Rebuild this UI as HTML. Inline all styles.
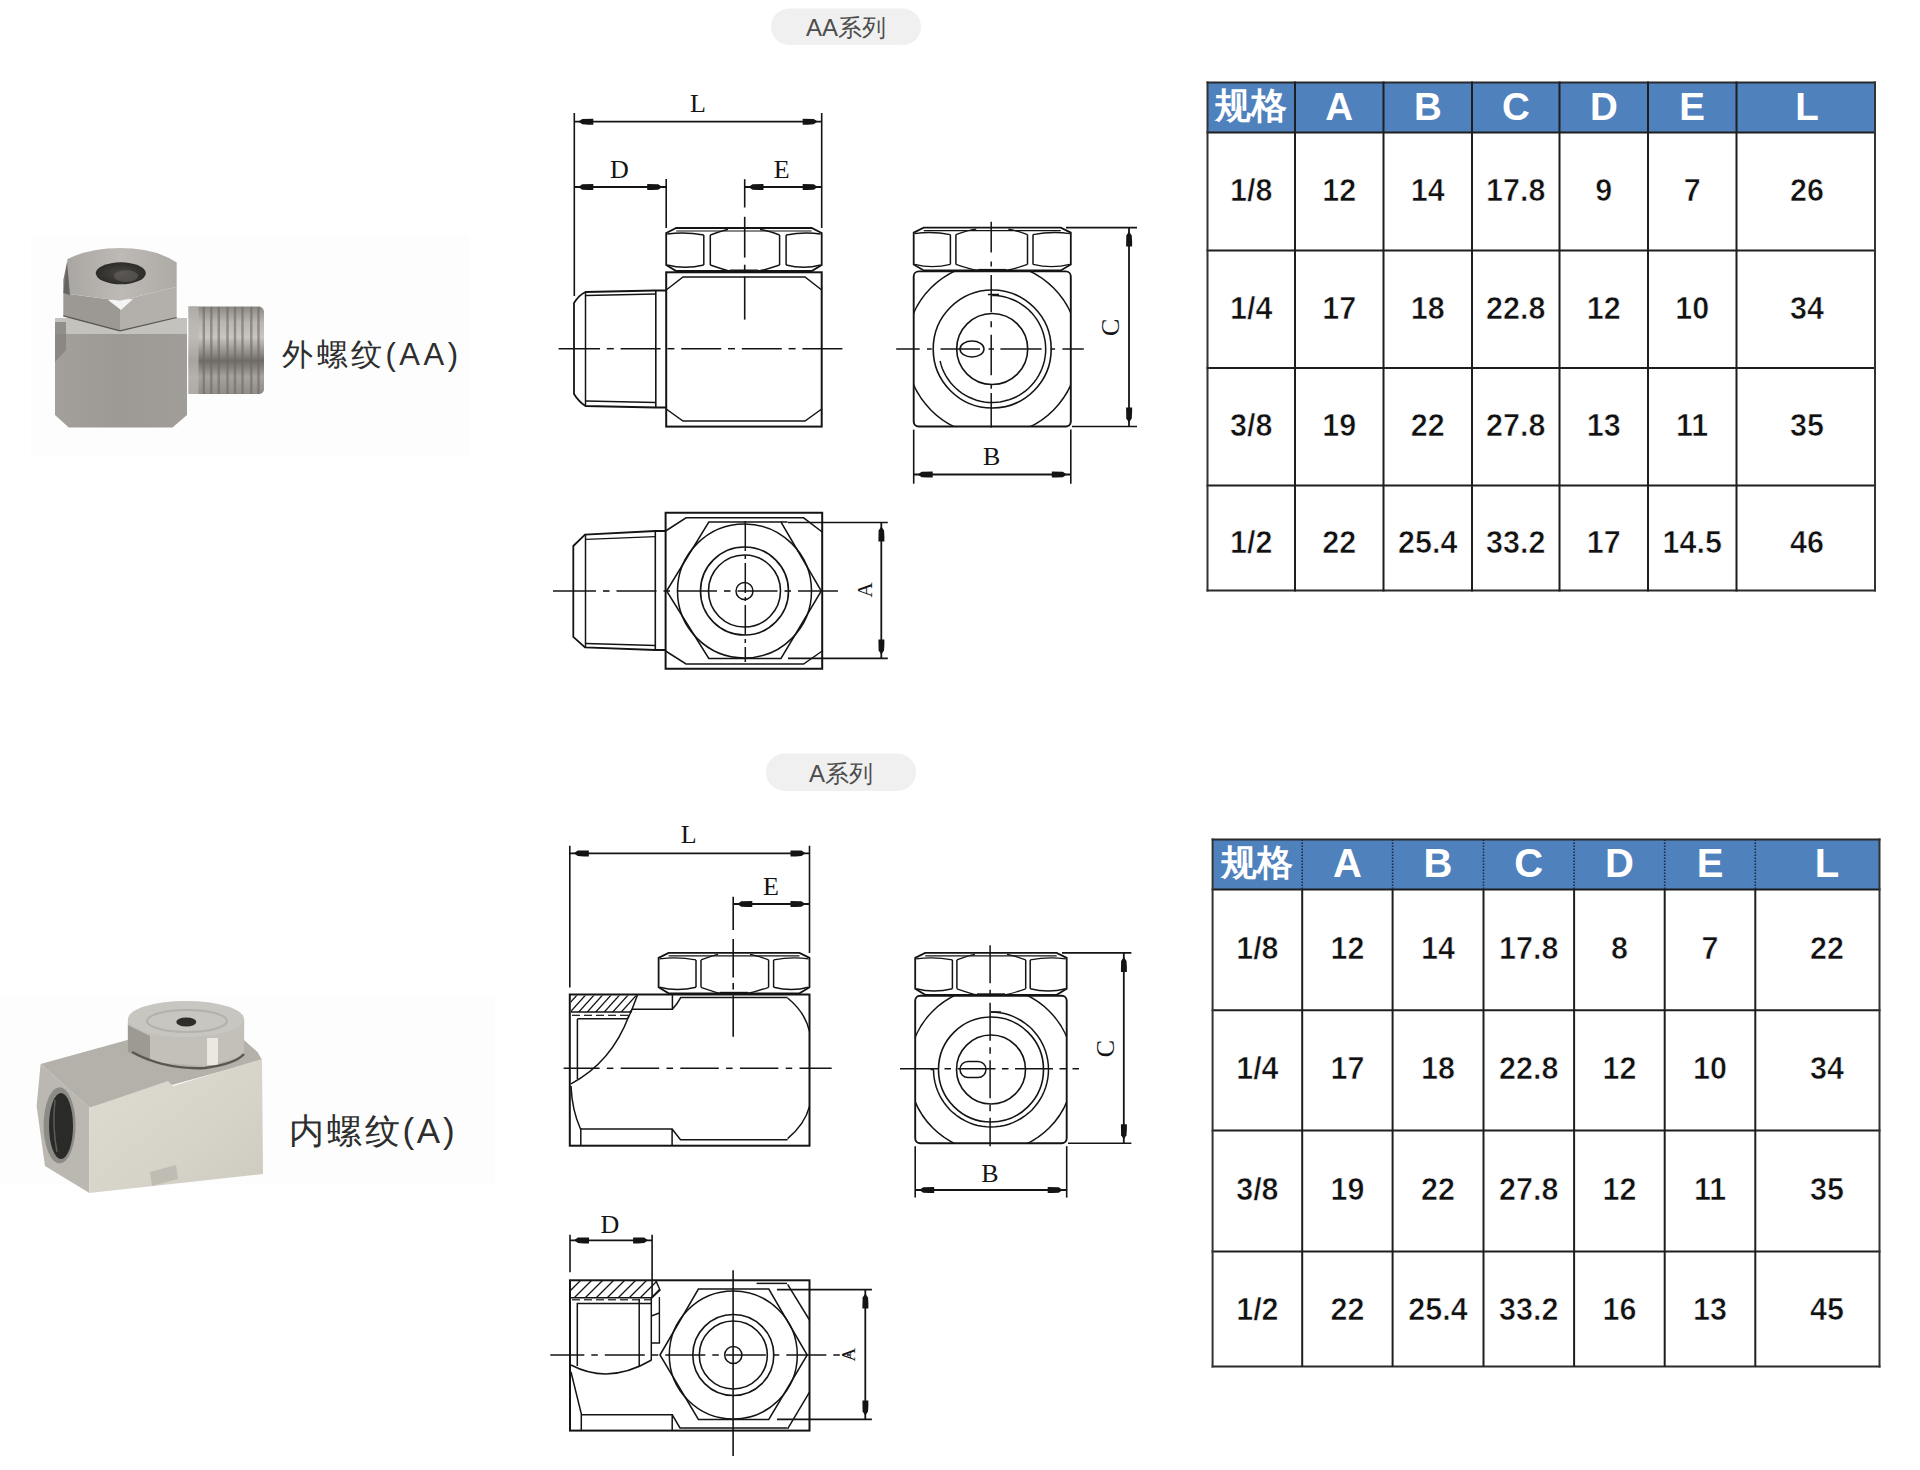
<!DOCTYPE html><html><head><meta charset="utf-8"><style>html,body{margin:0;padding:0;background:#fff;width:1920px;height:1470px;overflow:hidden}svg{display:block}</style></head><body>
<svg width="1920" height="1470" viewBox="0 0 1920 1470">
<rect x="0" y="0" width="1920" height="1470" fill="#ffffff"/>
<rect x="771" y="8.5" width="150" height="36.5" rx="18.25" fill="#f0f0f0"/>
<text x="846" y="36" font-family="Liberation Sans" font-size="24" fill="#4d4d4d" text-anchor="middle">AA系列</text>
<rect x="766" y="753.5" width="150" height="37.5" rx="18.75" fill="#f0f0f0"/>
<text x="841" y="781.5" font-family="Liberation Sans" font-size="24" fill="#4d4d4d" text-anchor="middle">A系列</text>
<rect x="31" y="234" width="438" height="222" fill="#fdfdfd"/>
<rect x="0" y="995" width="495" height="190" fill="#fdfdfd"/>
<defs>
<linearGradient id="p1thr" x1="0" y1="0" x2="0" y2="1">
<stop offset="0" stop-color="#8d8a86"/><stop offset="0.18" stop-color="#b9b6b1"/><stop offset="0.35" stop-color="#c9c6c1"/>
<stop offset="0.55" stop-color="#8a8783"/><stop offset="0.62" stop-color="#6f6c68"/><stop offset="0.8" stop-color="#a6a39e"/><stop offset="1" stop-color="#8f8c88"/>
</linearGradient>
<linearGradient id="p1body" x1="0" y1="0" x2="1" y2="0">
<stop offset="0" stop-color="#a3a09b"/><stop offset="0.5" stop-color="#9d9a95"/><stop offset="1" stop-color="#a19e99"/>
</linearGradient>
<linearGradient id="p1nut" x1="0" y1="0" x2="1" y2="0">
<stop offset="0" stop-color="#a8a5a0"/><stop offset="0.5" stop-color="#bdbab5"/><stop offset="1" stop-color="#aeaba6"/>
</linearGradient>
<linearGradient id="p2front" x1="0" y1="0" x2="1" y2="1">
<stop offset="0" stop-color="#dedbd0"/><stop offset="0.6" stop-color="#d6d3c8"/><stop offset="1" stop-color="#cdcac0"/>
</linearGradient>
<radialGradient id="p1hole" cx="0.5" cy="0.5" r="0.5">
<stop offset="0" stop-color="#4a4744"/><stop offset="1" stop-color="#2e2c2a"/>
</radialGradient>
</defs>
<g><path d="M188.5,306.5 L260,306.5 Q264,308 264,312 L264,389 Q264,393 260,394 L188.5,394 Z" fill="url(#p1thr)"/><line x1="203.8" y1="307" x2="203.8" y2="394" stroke="#6d6a66" stroke-width="2.4" opacity="0.6"/><line x1="211.3" y1="307" x2="211.3" y2="394" stroke="#6d6a66" stroke-width="2.4" opacity="0.6"/><line x1="218.8" y1="307" x2="218.8" y2="394" stroke="#6d6a66" stroke-width="2.4" opacity="0.6"/><line x1="227.5" y1="307" x2="227.5" y2="394" stroke="#6d6a66" stroke-width="2.4" opacity="0.6"/><line x1="235" y1="307" x2="235" y2="394" stroke="#6d6a66" stroke-width="2.4" opacity="0.6"/><line x1="242.5" y1="307" x2="242.5" y2="394" stroke="#6d6a66" stroke-width="2.4" opacity="0.6"/><line x1="251.3" y1="307" x2="251.3" y2="394" stroke="#6d6a66" stroke-width="2.4" opacity="0.6"/><line x1="258.5" y1="307" x2="258.5" y2="394" stroke="#6d6a66" stroke-width="2.4" opacity="0.6"/><rect x="188.5" y="306.5" width="10" height="87.5" fill="#b9b6b1" opacity="0.75"/><polygon points="55,320 187,320 187,415 172.5,427.5 68.75,427.5 55,415" fill="url(#p1body)"/><polygon points="55,318 187,318 187,334 55,334" fill="#c4c2bd"/><polygon points="55,322 66,322 66,350 55,362" fill="#85827d" opacity="0.8"/><polygon points="63.3,293.3 120,300.8 120,330.8 63.3,315.8" fill="#9c9994"/><polygon points="120,300.8 176.7,286.7 176.7,317.5 120,330.8" fill="#b3b0ab"/><polygon points="108,300 133,299 121,310" fill="#f4f4f4"/><path d="M63.3,315.8 L120,330.8 L176.7,317.5" fill="none" stroke="#55524e" stroke-width="1.2"/><path d="M67.5,259 Q90,248 120,248 Q155,248 176.7,262.5 L176.7,286.7 L120,300.8 L63.3,293.3 Z" fill="url(#p1nut)"/><polygon points="63.3,280 67,262 70,295 63.3,293.3" fill="#4a4845" opacity="0.7"/><ellipse cx="120.8" cy="273.3" rx="25" ry="11" fill="url(#p1hole)"/><ellipse cx="126" cy="276" rx="12" ry="6" fill="#6b6864" opacity="0.5"/></g>
<text x="282" y="364.6" font-family="Liberation Sans" font-size="31" fill="#2e2e2e" letter-spacing="3.5">外螺纹(AA)</text>
<g><polygon points="36.6,1106 40.6,1064 89.4,1107.7 89.4,1193 45,1166" fill="#bab8b1"/><polygon points="40.6,1064 127.4,1040 244,1040 257.5,1052 262,1060 89.4,1107.7" fill="#b3b1aa"/><polygon points="89.4,1107.7 168,1081 173,1086 262,1059 263,1174 89.4,1193" fill="url(#p2front)"/><ellipse cx="59.6" cy="1125.3" rx="16" ry="38" fill="#8d8b85"/><ellipse cx="61" cy="1126" rx="12" ry="33" fill="#2a2a28"/><path d="M55,1100 Q52,1126 57,1152" fill="none" stroke="#5e5c57" stroke-width="1.5"/><polygon points="150,1172 176,1165 178,1179 152,1186" fill="#bfbcb4"/><polygon points="127.9,1019 127.9,1052 150,1062 207,1066 244,1056 244.2,1019" fill="#c2c0b9"/><polygon points="127.9,1025 150,1036 150,1062 127.9,1052" fill="#9d9a92"/><rect x="207" y="1038" width="11" height="27" fill="#ebe9df"/><path d="M132,1052 Q165,1070 205,1068 Q235,1064 244,1054" fill="none" stroke="#5a574d" stroke-width="2.5"/><ellipse cx="186" cy="1019" rx="58" ry="18" fill="#c8c6c0"/><ellipse cx="187" cy="1021" rx="40" ry="11" fill="none" stroke="#b3b1aa" stroke-width="2"/><ellipse cx="186.3" cy="1022" rx="10" ry="4.5" fill="#2f2d2a"/></g>
<text x="289" y="1142.7" font-family="Liberation Sans" font-size="35" fill="#2e2e2e" letter-spacing="2.8">内螺纹(A)</text>
<g><line x1="574.3" y1="121.6" x2="821.7" y2="121.6" stroke="#141414" stroke-width="1.8"/><polygon points="578.3,121.6 582.3,118.9 593.3,118.7 593.3,124.7 588.3,124.7 582.3,124.3" fill="#141414"/><polygon points="817.7,121.6 813.7,118.9 802.7,118.7 802.7,124.7 807.7,124.7 813.7,124.3" fill="#141414"/><line x1="574.3" y1="113.0" x2="574.3" y2="296.0" stroke="#141414" stroke-width="1.6"/><line x1="821.7" y1="113.0" x2="821.7" y2="228.0" stroke="#141414" stroke-width="1.6"/><text x="698" y="112.4" font-family="Liberation Serif" font-size="26" fill="#141414" text-anchor="middle">L</text><line x1="574.3" y1="187.0" x2="666.2" y2="187.0" stroke="#141414" stroke-width="1.8"/><polygon points="578.3,187.0 582.3,184.3 593.3,184.1 593.3,190.1 588.3,190.1 582.3,189.7" fill="#141414"/><polygon points="662.2,187.0 658.2,184.3 647.2,184.1 647.2,190.1 652.2,190.1 658.2,189.7" fill="#141414"/><line x1="666.2" y1="179.0" x2="666.2" y2="228.0" stroke="#141414" stroke-width="1.6"/><text x="619.5" y="177.5" font-family="Liberation Serif" font-size="26" fill="#141414" text-anchor="middle">D</text><line x1="744.5" y1="187.0" x2="821.7" y2="187.0" stroke="#141414" stroke-width="1.8"/><polygon points="748.5,187.0 752.5,184.3 763.5,184.1 763.5,190.1 758.5,190.1 752.5,189.7" fill="#141414"/><polygon points="817.7,187.0 813.7,184.3 802.7,184.1 802.7,190.1 807.7,190.1 813.7,189.7" fill="#141414"/><line x1="744.7" y1="179.2" x2="744.7" y2="207.5" stroke="#141414" stroke-width="1.6"/><line x1="744.7" y1="216.8" x2="744.7" y2="257.6" stroke="#141414" stroke-width="1.6"/><line x1="744.7" y1="264.7" x2="744.7" y2="270.1" stroke="#141414" stroke-width="1.6"/><line x1="744.7" y1="276.6" x2="744.7" y2="319.6" stroke="#141414" stroke-width="1.6"/><text x="781.7" y="177.5" font-family="Liberation Serif" font-size="26" fill="#141414" text-anchor="middle">E</text><path d="M666.2,233 L676.2,228 L811.7,228 L821.7,233 L821.7,265 L811.7,271 L676.2,271 L666.2,265 Z" fill="none" stroke="#141414" stroke-width="1.8"/><line x1="676.2" y1="231.0" x2="811.7" y2="231.0" stroke="#141414" stroke-width="1.1"/><path d="M667.2,234 Q685.0,231.5 703.8,235" fill="none" stroke="#141414" stroke-width="1.4"/><path d="M710.3,235 Q724.3,230 727.95,229.5" fill="none" stroke="#141414" stroke-width="1.4"/><path d="M759.95,229.5 Q765.6,230 779.6,235" fill="none" stroke="#141414" stroke-width="1.4"/><path d="M786.1,235 Q803.9000000000001,231.5 820.7,234" fill="none" stroke="#141414" stroke-width="1.4"/><path d="M667.2,265 Q685.0,269.5 703.8,265" fill="none" stroke="#141414" stroke-width="1.4"/><path d="M710.3,265 Q726.3,270.5 729.95,271" fill="none" stroke="#141414" stroke-width="1.4"/><path d="M757.95,271 Q763.6,270.5 779.6,265" fill="none" stroke="#141414" stroke-width="1.4"/><path d="M786.1,265 Q803.9000000000001,269.5 820.7,265" fill="none" stroke="#141414" stroke-width="1.4"/><line x1="730.0" y1="270.7" x2="758.0" y2="270.7" stroke="#141414" stroke-width="2.4"/><line x1="703.8" y1="235.0" x2="703.8" y2="265.0" stroke="#141414" stroke-width="1.5"/><line x1="710.3" y1="235.0" x2="710.3" y2="265.0" stroke="#141414" stroke-width="1.5"/><line x1="779.6" y1="235.0" x2="779.6" y2="265.0" stroke="#141414" stroke-width="1.5"/><line x1="786.1" y1="235.0" x2="786.1" y2="265.0" stroke="#141414" stroke-width="1.5"/><rect x="666.2" y="272.3" width="155.5" height="154.3" fill="none" stroke="#141414" stroke-width="2"/><path d="M666.2,290 L683,277 L805,277 L821.7,290" fill="none" stroke="#141414" stroke-width="1.5"/><path d="M666.2,409 L683,421 L805,421 L821.7,409" fill="none" stroke="#141414" stroke-width="1.5"/><path d="M666.2,290.5 L655.5,290.5 L585.5,292 Q579,295 574,303 L574,394 Q579,402 585.5,406 L655.5,407.5 L666.2,407.5" fill="none" stroke="#141414" stroke-width="1.8"/><path d="M586,295.5 L655.5,294" fill="none" stroke="#141414" stroke-width="1.4"/><path d="M586,401 L655.5,402.5" fill="none" stroke="#141414" stroke-width="1.4"/><line x1="585.5" y1="292.0" x2="585.5" y2="406.0" stroke="#141414" stroke-width="1.5"/><line x1="655.8" y1="290.5" x2="655.8" y2="407.5" stroke="#141414" stroke-width="1.6"/><line x1="558.6" y1="348.7" x2="600.0" y2="348.7" stroke="#141414" stroke-width="1.5"/><line x1="606.8" y1="348.7" x2="613.8" y2="348.7" stroke="#141414" stroke-width="1.5"/><line x1="620.6" y1="348.7" x2="660.6" y2="348.7" stroke="#141414" stroke-width="1.5"/><line x1="667.4" y1="348.7" x2="674.4" y2="348.7" stroke="#141414" stroke-width="1.5"/><line x1="681.2" y1="348.7" x2="721.2" y2="348.7" stroke="#141414" stroke-width="1.5"/><line x1="728.0" y1="348.7" x2="735.0" y2="348.7" stroke="#141414" stroke-width="1.5"/><line x1="741.8" y1="348.7" x2="781.8" y2="348.7" stroke="#141414" stroke-width="1.5"/><line x1="788.6" y1="348.7" x2="795.6" y2="348.7" stroke="#141414" stroke-width="1.5"/><line x1="802.4" y1="348.7" x2="842.4" y2="348.7" stroke="#141414" stroke-width="1.5"/><path d="M913.7,232.6 L923.7,227.6 L1060.8,227.6 L1070.8,232.6 L1070.8,264.4 L1060.8,270.4 L923.7,270.4 L913.7,264.4 Z" fill="none" stroke="#141414" stroke-width="1.8"/><line x1="923.7" y1="230.6" x2="1060.8" y2="230.6" stroke="#141414" stroke-width="1.1"/><path d="M914.7,233.6 Q932.05,231.1 950.4,234.6" fill="none" stroke="#141414" stroke-width="1.4"/><path d="M955.9,234.6 Q969.9,229.6 976.25,229.1" fill="none" stroke="#141414" stroke-width="1.4"/><path d="M1008.25,229.1 Q1013.5,229.6 1027.5,234.6" fill="none" stroke="#141414" stroke-width="1.4"/><path d="M1033.0,234.6 Q1051.9,231.1 1069.8,233.6" fill="none" stroke="#141414" stroke-width="1.4"/><path d="M914.7,264.4 Q932.05,268.9 950.4,264.4" fill="none" stroke="#141414" stroke-width="1.4"/><path d="M955.9,264.4 Q971.9,269.9 978.25,270.4" fill="none" stroke="#141414" stroke-width="1.4"/><path d="M1006.25,270.4 Q1011.5,269.9 1027.5,264.4" fill="none" stroke="#141414" stroke-width="1.4"/><path d="M1033.0,264.4 Q1051.9,268.9 1069.8,264.4" fill="none" stroke="#141414" stroke-width="1.4"/><line x1="978.2" y1="270.1" x2="1006.2" y2="270.1" stroke="#141414" stroke-width="2.4"/><line x1="950.4" y1="234.6" x2="950.4" y2="264.4" stroke="#141414" stroke-width="1.5"/><line x1="955.9" y1="234.6" x2="955.9" y2="264.4" stroke="#141414" stroke-width="1.5"/><line x1="1027.5" y1="234.6" x2="1027.5" y2="264.4" stroke="#141414" stroke-width="1.5"/><line x1="1033.0" y1="234.6" x2="1033.0" y2="264.4" stroke="#141414" stroke-width="1.5"/><rect x="913.7" y="271.4" width="157.1" height="155.1" rx="5" fill="none" stroke="#141414" stroke-width="1.9"/><clipPath id="c2"><rect x="913.7" y="271.4" width="157.1" height="155.1"/></clipPath><circle cx="992.2" cy="349" r="86.5" fill="none" stroke="#141414" stroke-width="1.5" clip-path="url(#c2)"/><circle cx="992.2" cy="349" r="59" fill="none" stroke="#141414" stroke-width="1.6"/><path d="M992.2,295.5 L996.2,295.6 L1000.2,296.1 L1004.1,296.8 L1008.0,297.9 L1011.7,299.2 L1015.4,300.8 L1018.9,302.7 L1022.3,304.8 L1025.5,307.2 L1028.6,309.8 L1031.4,312.6 L1034.0,315.6 L1036.4,318.8 L1038.5,322.2 L1040.4,325.8 L1042.0,329.4 L1043.3,333.2 L1044.3,337.1 L1045.1,341.0 L1045.5,345.0 L1045.7,349.0 L1045.6,352.9 L1045.1,356.9 L1044.4,360.9 L1043.3,364.7 L1042.0,368.5 L1040.4,372.2 L1038.6,375.7 L1036.4,379.1 L1034.1,382.3 L1031.5,385.3 L1028.6,388.2 L1025.6,390.8 L1022.4,393.2 L1019.0,395.3 L1015.5,397.2 L1011.8,398.8 L1008.1,400.1 L1004.2,401.1 L1000.3,401.9 L996.3,402.3 L992.3,402.5 L988.3,402.4 L984.3,401.9 L980.4,401.2 L976.5,400.2 L972.8,398.8 L969.1,397.2 L965.5,395.4 L962.2,393.3 L958.9,390.9 L955.9,388.3 L953.1,385.5 L950.4,382.5 L948.1,379.2 L945.9,375.9 L944.1,372.3 L942.4,368.7 L941.1,364.9 L940.1,361.0" fill="none" stroke="#141414" stroke-width="1.5"/><path d="M988,294.5 L999,294.5" fill="none" stroke="#141414" stroke-width="1.5"/><circle cx="992.2" cy="349" r="35.5" fill="none" stroke="#141414" stroke-width="1.6"/><ellipse cx="972" cy="349" rx="12" ry="8" fill="none" stroke="#141414" stroke-width="1.5"/><line x1="991.2" y1="221.7" x2="991.2" y2="252.4" stroke="#141414" stroke-width="1.5"/><line x1="991.2" y1="261.4" x2="991.2" y2="266.6" stroke="#141414" stroke-width="1.5"/><line x1="991.2" y1="274.9" x2="991.2" y2="312.3" stroke="#141414" stroke-width="1.5"/><line x1="991.2" y1="321.3" x2="991.2" y2="327.3" stroke="#141414" stroke-width="1.5"/><line x1="991.2" y1="334.8" x2="991.2" y2="375.2" stroke="#141414" stroke-width="1.5"/><line x1="991.2" y1="384.2" x2="991.2" y2="388.7" stroke="#141414" stroke-width="1.5"/><line x1="991.2" y1="393.1" x2="991.2" y2="427.6" stroke="#141414" stroke-width="1.5"/><line x1="896.2" y1="349.0" x2="919.7" y2="349.0" stroke="#141414" stroke-width="1.5"/><line x1="927.0" y1="349.0" x2="931.7" y2="349.0" stroke="#141414" stroke-width="1.5"/><line x1="940.5" y1="349.0" x2="980.0" y2="349.0" stroke="#141414" stroke-width="1.5"/><line x1="988.5" y1="349.0" x2="994.0" y2="349.0" stroke="#141414" stroke-width="1.5"/><line x1="1000.4" y1="349.0" x2="1041.6" y2="349.0" stroke="#141414" stroke-width="1.5"/><line x1="1050.4" y1="349.0" x2="1055.1" y2="349.0" stroke="#141414" stroke-width="1.5"/><line x1="1062.4" y1="349.0" x2="1083.8" y2="349.0" stroke="#141414" stroke-width="1.5"/><line x1="1129.0" y1="227.6" x2="1129.0" y2="426.5" stroke="#141414" stroke-width="1.8"/><polygon points="1129.0,231.6 1126.3,235.6 1126.1,246.6 1132.1,246.6 1132.1,241.6 1131.7,235.6" fill="#141414"/><polygon points="1129.0,422.5 1126.3,418.5 1126.1,407.5 1132.1,407.5 1132.1,412.5 1131.7,418.5" fill="#141414"/><line x1="1066.0" y1="227.6" x2="1137.0" y2="227.6" stroke="#141414" stroke-width="1.6"/><line x1="1072.0" y1="426.5" x2="1137.0" y2="426.5" stroke="#141414" stroke-width="1.6"/><text x="1119.3" y="327.4" font-family="Liberation Serif" font-size="26" fill="#141414" text-anchor="middle" transform="rotate(-90 1119.3 327.4)">C</text><line x1="913.7" y1="474.5" x2="1070.8" y2="474.5" stroke="#141414" stroke-width="1.8"/><polygon points="917.7,474.5 921.7,471.8 932.7,471.6 932.7,477.6 927.7,477.6 921.7,477.2" fill="#141414"/><polygon points="1066.8,474.5 1062.8,471.8 1051.8,471.6 1051.8,477.6 1056.8,477.6 1062.8,477.2" fill="#141414"/><line x1="913.7" y1="429.6" x2="913.7" y2="483.7" stroke="#141414" stroke-width="1.6"/><line x1="1070.8" y1="429.6" x2="1070.8" y2="483.7" stroke="#141414" stroke-width="1.6"/><text x="991.7" y="465.3" font-family="Liberation Serif" font-size="26" fill="#141414" text-anchor="middle">B</text><rect x="665.6" y="512.75" width="156.6" height="156" fill="none" stroke="#141414" stroke-width="2"/><path d="M665.6,531 L686,517.8 L803.6,517.8 L822.2,532" fill="none" stroke="#141414" stroke-width="1.5"/><path d="M665.6,651 L686,664 L803.6,664 L822.2,651" fill="none" stroke="#141414" stroke-width="1.5"/><path d="M666.6,591 L708.8,522 L781,522 L821.3,591 L781,658.4 L708.8,658.4 Z" fill="none" stroke="#141414" stroke-width="1.5"/><line x1="781.0" y1="522.0" x2="787.6" y2="522.0" stroke="#141414" stroke-width="1.5"/><circle cx="744.5" cy="591" r="67" fill="none" stroke="#141414" stroke-width="1.5"/><circle cx="744.5" cy="591" r="44" fill="none" stroke="#141414" stroke-width="1.6"/><circle cx="744.5" cy="591" r="36" fill="none" stroke="#141414" stroke-width="1.6"/><circle cx="744.5" cy="591" r="8.5" fill="none" stroke="#141414" stroke-width="1.5"/><path d="M665.6,531 L655.3,531 L585,534.7 L573.3,546 L573.3,636.8 L585,647.3 L655.3,650 L665.6,650" fill="none" stroke="#141414" stroke-width="1.8"/><path d="M586,539.4 L655.3,536.6" fill="none" stroke="#141414" stroke-width="1.4"/><path d="M586,643.5 L655.3,645.5" fill="none" stroke="#141414" stroke-width="1.4"/><line x1="585.5" y1="534.7" x2="585.5" y2="647.3" stroke="#141414" stroke-width="1.5"/><line x1="655.3" y1="531.0" x2="655.3" y2="650.0" stroke="#141414" stroke-width="1.6"/><line x1="553.0" y1="591.0" x2="596.0" y2="591.0" stroke="#141414" stroke-width="1.6"/><line x1="603.0" y1="591.0" x2="609.5" y2="591.0" stroke="#141414" stroke-width="1.6"/><line x1="616.5" y1="591.0" x2="656.5" y2="591.0" stroke="#141414" stroke-width="1.6"/><line x1="663.5" y1="591.0" x2="670.0" y2="591.0" stroke="#141414" stroke-width="1.6"/><line x1="677.0" y1="591.0" x2="717.0" y2="591.0" stroke="#141414" stroke-width="1.6"/><line x1="724.0" y1="591.0" x2="730.5" y2="591.0" stroke="#141414" stroke-width="1.6"/><line x1="737.5" y1="591.0" x2="777.5" y2="591.0" stroke="#141414" stroke-width="1.6"/><line x1="784.5" y1="591.0" x2="791.0" y2="591.0" stroke="#141414" stroke-width="1.6"/><line x1="798.0" y1="591.0" x2="838.0" y2="591.0" stroke="#141414" stroke-width="1.6"/><line x1="745.3" y1="521.0" x2="745.3" y2="662.0" stroke="#141414" stroke-width="1.5" stroke-dasharray="30 4 4 4"/><line x1="881.3" y1="522.5" x2="881.3" y2="658.4" stroke="#141414" stroke-width="1.8"/><polygon points="881.3,526.5 878.6,530.5 878.4,541.5 884.4,541.5 884.4,536.5 884.0,530.5" fill="#141414"/><polygon points="881.3,654.4 878.6,650.4 878.4,639.4 884.4,639.4 884.4,644.4 884.0,650.4" fill="#141414"/><line x1="788.0" y1="522.5" x2="887.8" y2="522.5" stroke="#141414" stroke-width="1.6"/><line x1="788.0" y1="658.4" x2="887.8" y2="658.4" stroke="#141414" stroke-width="1.6"/><text x="872" y="590" font-family="Liberation Serif" font-size="21" fill="#141414" text-anchor="middle" transform="rotate(-90 872 590)">A</text><line x1="569.8" y1="853.3" x2="809.5" y2="853.3" stroke="#141414" stroke-width="1.8"/><polygon points="573.8,853.3 577.8,850.6 588.8,850.4 588.8,856.4 583.8,856.4 577.8,856.0" fill="#141414"/><polygon points="805.5,853.3 801.5,850.6 790.5,850.4 790.5,856.4 795.5,856.4 801.5,856.0" fill="#141414"/><line x1="569.8" y1="845.7" x2="569.8" y2="987.4" stroke="#141414" stroke-width="1.6"/><line x1="809.5" y1="845.7" x2="809.5" y2="953.0" stroke="#141414" stroke-width="1.6"/><text x="688.8" y="843.3" font-family="Liberation Serif" font-size="26" fill="#141414" text-anchor="middle">L</text><line x1="733.3" y1="904.0" x2="809.5" y2="904.0" stroke="#141414" stroke-width="1.8"/><polygon points="737.3,904.0 741.3,901.3 752.3,901.1 752.3,907.1 747.3,907.1 741.3,906.7" fill="#141414"/><polygon points="805.5,904.0 801.5,901.3 790.5,901.1 790.5,907.1 795.5,907.1 801.5,906.7" fill="#141414"/><line x1="733.2" y1="896.8" x2="733.2" y2="930.0" stroke="#141414" stroke-width="1.6"/><line x1="733.2" y1="939.0" x2="733.2" y2="977.4" stroke="#141414" stroke-width="1.6"/><line x1="733.2" y1="983.0" x2="733.2" y2="989.5" stroke="#141414" stroke-width="1.6"/><line x1="733.2" y1="995.3" x2="733.2" y2="1036.8" stroke="#141414" stroke-width="1.6"/><text x="771" y="894.5" font-family="Liberation Serif" font-size="26" fill="#141414" text-anchor="middle">E</text><path d="M658.6,957.9 L668.6,952.9 L799.5,952.9 L809.5,957.9 L809.5,987.3 L799.5,993.3 L668.6,993.3 L658.6,987.3 Z" fill="none" stroke="#141414" stroke-width="1.8"/><line x1="668.6" y1="955.9" x2="799.5" y2="955.9" stroke="#141414" stroke-width="1.1"/><path d="M659.6,958.9 Q677.3,956.4 696,959.9" fill="none" stroke="#141414" stroke-width="1.4"/><path d="M701,959.9 Q715,954.9 718.05,954.4" fill="none" stroke="#141414" stroke-width="1.4"/><path d="M750.05,954.4 Q754.6,954.9 768.6,959.9" fill="none" stroke="#141414" stroke-width="1.4"/><path d="M773.6,959.9 Q791.55,956.4 808.5,958.9" fill="none" stroke="#141414" stroke-width="1.4"/><path d="M659.6,987.3 Q677.3,991.8 696,987.3" fill="none" stroke="#141414" stroke-width="1.4"/><path d="M701,987.3 Q717,992.8 720.05,993.3" fill="none" stroke="#141414" stroke-width="1.4"/><path d="M748.05,993.3 Q752.6,992.8 768.6,987.3" fill="none" stroke="#141414" stroke-width="1.4"/><path d="M773.6,987.3 Q791.55,991.8 808.5,987.3" fill="none" stroke="#141414" stroke-width="1.4"/><line x1="720.0" y1="993.0" x2="748.0" y2="993.0" stroke="#141414" stroke-width="2.4"/><line x1="696.0" y1="959.9" x2="696.0" y2="987.3" stroke="#141414" stroke-width="1.5"/><line x1="701.0" y1="959.9" x2="701.0" y2="987.3" stroke="#141414" stroke-width="1.5"/><line x1="768.6" y1="959.9" x2="768.6" y2="987.3" stroke="#141414" stroke-width="1.5"/><line x1="773.6" y1="959.9" x2="773.6" y2="987.3" stroke="#141414" stroke-width="1.5"/><rect x="569.8" y="994.5" width="239.7" height="151.2" fill="none" stroke="#141414" stroke-width="2"/><clipPath id="h4"><polygon points="571,995.5 637.5,995.5 631,1012 571,1012"/></clipPath><g clip-path="url(#h4)"><line x1="517.5" y1="1014.0" x2="535.5" y2="994.0" stroke="#141414" stroke-width="1.3"/><line x1="526.0" y1="1014.0" x2="544.0" y2="994.0" stroke="#141414" stroke-width="1.3"/><line x1="534.5" y1="1014.0" x2="552.5" y2="994.0" stroke="#141414" stroke-width="1.3"/><line x1="543.0" y1="1014.0" x2="561.0" y2="994.0" stroke="#141414" stroke-width="1.3"/><line x1="551.5" y1="1014.0" x2="569.5" y2="994.0" stroke="#141414" stroke-width="1.3"/><line x1="560.0" y1="1014.0" x2="578.0" y2="994.0" stroke="#141414" stroke-width="1.3"/><line x1="568.5" y1="1014.0" x2="586.5" y2="994.0" stroke="#141414" stroke-width="1.3"/><line x1="577.0" y1="1014.0" x2="595.0" y2="994.0" stroke="#141414" stroke-width="1.3"/><line x1="585.5" y1="1014.0" x2="603.5" y2="994.0" stroke="#141414" stroke-width="1.3"/><line x1="594.0" y1="1014.0" x2="612.0" y2="994.0" stroke="#141414" stroke-width="1.3"/><line x1="602.5" y1="1014.0" x2="620.5" y2="994.0" stroke="#141414" stroke-width="1.3"/><line x1="611.0" y1="1014.0" x2="629.0" y2="994.0" stroke="#141414" stroke-width="1.3"/><line x1="619.5" y1="1014.0" x2="637.5" y2="994.0" stroke="#141414" stroke-width="1.3"/><line x1="628.0" y1="1014.0" x2="646.0" y2="994.0" stroke="#141414" stroke-width="1.3"/><line x1="636.5" y1="1014.0" x2="654.5" y2="994.0" stroke="#141414" stroke-width="1.3"/><line x1="645.0" y1="1014.0" x2="663.0" y2="994.0" stroke="#141414" stroke-width="1.3"/><line x1="653.5" y1="1014.0" x2="671.5" y2="994.0" stroke="#141414" stroke-width="1.3"/><line x1="662.0" y1="1014.0" x2="680.0" y2="994.0" stroke="#141414" stroke-width="1.3"/><line x1="670.5" y1="1014.0" x2="688.5" y2="994.0" stroke="#141414" stroke-width="1.3"/><line x1="679.0" y1="1014.0" x2="697.0" y2="994.0" stroke="#141414" stroke-width="1.3"/><line x1="687.5" y1="1014.0" x2="705.5" y2="994.0" stroke="#141414" stroke-width="1.3"/></g><path d="M571,1012 L631,1012 L637.5,995" fill="none" stroke="#141414" stroke-width="1.5"/><path d="M631,1012 L627.4,1019" fill="none" stroke="#141414" stroke-width="1.4"/><line x1="572.0" y1="1015.3" x2="580.0" y2="1015.3" stroke="#141414" stroke-width="1.2"/><line x1="584.0" y1="1015.3" x2="592.0" y2="1015.3" stroke="#141414" stroke-width="1.2"/><line x1="596.0" y1="1015.3" x2="604.0" y2="1015.3" stroke="#141414" stroke-width="1.2"/><line x1="608.0" y1="1015.3" x2="616.0" y2="1015.3" stroke="#141414" stroke-width="1.2"/><line x1="620.0" y1="1015.3" x2="628.0" y2="1015.3" stroke="#141414" stroke-width="1.2"/><path d="M577.4,1018.7 L627.4,1018.7" fill="none" stroke="#141414" stroke-width="1.5"/><path d="M631.9,1009.2 L672.4,1009.2 L672.4,995 M672.4,1009.2 Q678,1003 680.8,997.4 L787.6,997.4" fill="none" stroke="#141414" stroke-width="1.5"/><path d="M787.6,998 Q805,1012 809.5,1031.4" fill="none" stroke="#141414" stroke-width="1.5"/><path d="M809.5,1106.4 Q805,1124 787.6,1138.6" fill="none" stroke="#141414" stroke-width="1.5"/><path d="M629.3,1014.8 Q612,1062 571,1083.8" fill="none" stroke="#141414" stroke-width="1.5"/><path d="M571,1086 Q572,1110 580.5,1129" fill="none" stroke="#141414" stroke-width="1.5"/><line x1="577.4" y1="1019.0" x2="577.4" y2="1079.0" stroke="#141414" stroke-width="1.5"/><line x1="580.8" y1="1128.0" x2="580.8" y2="1145.0" stroke="#141414" stroke-width="1.5"/><path d="M580.5,1129 L672.1,1129 L672.1,1145.7 M672.1,1129 L680.5,1139.8 L787.6,1139.8" fill="none" stroke="#141414" stroke-width="1.5"/><line x1="563.6" y1="1068.3" x2="599.6" y2="1068.3" stroke="#141414" stroke-width="1.5"/><line x1="606.9" y1="1068.3" x2="613.4" y2="1068.3" stroke="#141414" stroke-width="1.5"/><line x1="620.7" y1="1068.3" x2="659.2" y2="1068.3" stroke="#141414" stroke-width="1.5"/><line x1="666.5" y1="1068.3" x2="673.0" y2="1068.3" stroke="#141414" stroke-width="1.5"/><line x1="680.3" y1="1068.3" x2="718.8" y2="1068.3" stroke="#141414" stroke-width="1.5"/><line x1="726.1" y1="1068.3" x2="732.6" y2="1068.3" stroke="#141414" stroke-width="1.5"/><line x1="739.9" y1="1068.3" x2="778.4" y2="1068.3" stroke="#141414" stroke-width="1.5"/><line x1="785.7" y1="1068.3" x2="792.2" y2="1068.3" stroke="#141414" stroke-width="1.5"/><line x1="799.5" y1="1068.3" x2="831.7" y2="1068.3" stroke="#141414" stroke-width="1.5"/><path d="M915.2,957.9 L925.2,952.9 L1056.7,952.9 L1066.7,957.9 L1066.7,988.8 L1056.7,994.8 L925.2,994.8 L915.2,988.8 Z" fill="none" stroke="#141414" stroke-width="1.8"/><line x1="925.2" y1="955.9" x2="1056.7" y2="955.9" stroke="#141414" stroke-width="1.1"/><path d="M916.2,958.9 Q933.8,956.4 952.4,959.9" fill="none" stroke="#141414" stroke-width="1.4"/><path d="M956.9,959.9 Q970.9,954.9 974.95,954.4" fill="none" stroke="#141414" stroke-width="1.4"/><path d="M1006.95,954.4 Q1011.7,954.9 1025.7,959.9" fill="none" stroke="#141414" stroke-width="1.4"/><path d="M1030.2,959.9 Q1048.45,956.4 1065.7,958.9" fill="none" stroke="#141414" stroke-width="1.4"/><path d="M916.2,988.8 Q933.8,993.3 952.4,988.8" fill="none" stroke="#141414" stroke-width="1.4"/><path d="M956.9,988.8 Q972.9,994.3 976.95,994.8" fill="none" stroke="#141414" stroke-width="1.4"/><path d="M1004.95,994.8 Q1009.7,994.3 1025.7,988.8" fill="none" stroke="#141414" stroke-width="1.4"/><path d="M1030.2,988.8 Q1048.45,993.3 1065.7,988.8" fill="none" stroke="#141414" stroke-width="1.4"/><line x1="977.0" y1="994.5" x2="1005.0" y2="994.5" stroke="#141414" stroke-width="2.4"/><line x1="952.4" y1="959.9" x2="952.4" y2="988.8" stroke="#141414" stroke-width="1.5"/><line x1="956.9" y1="959.9" x2="956.9" y2="988.8" stroke="#141414" stroke-width="1.5"/><line x1="1025.7" y1="959.9" x2="1025.7" y2="988.8" stroke="#141414" stroke-width="1.5"/><line x1="1030.2" y1="959.9" x2="1030.2" y2="988.8" stroke="#141414" stroke-width="1.5"/><rect x="915.2" y="995.7" width="151.5" height="147.6" rx="5" fill="none" stroke="#141414" stroke-width="1.9"/><clipPath id="c5"><rect x="915.2" y="995.7" width="151.5" height="147.6"/></clipPath><circle cx="991" cy="1069.5" r="82.5" fill="none" stroke="#141414" stroke-width="1.5" clip-path="url(#c5)"/><circle cx="991" cy="1069.5" r="52.5" fill="none" stroke="#141414" stroke-width="1.6"/><path d="M991.0,1012.0 L995.5,1012.2 L1000.0,1012.7 L1004.4,1013.6 L1008.8,1014.8 L1013.0,1016.4 L1017.1,1018.3 L1021.0,1020.5 L1024.8,1023.0 L1028.3,1025.8 L1031.7,1028.8 L1034.7,1032.2 L1037.5,1035.7 L1040.0,1039.5 L1042.2,1043.4 L1044.1,1047.5 L1045.7,1051.7 L1046.9,1056.1 L1047.8,1060.5 L1048.3,1065.0 L1048.5,1069.5 L1048.3,1074.0 L1047.8,1078.5 L1046.9,1082.9 L1045.7,1087.3 L1044.1,1091.5 L1042.2,1095.6 L1040.0,1099.5 L1037.5,1103.3 L1034.7,1106.8 L1031.7,1110.2 L1028.3,1113.2 L1024.8,1116.0 L1021.0,1118.5 L1017.1,1120.7 L1013.0,1122.6 L1008.8,1124.2 L1004.4,1125.4 L1000.0,1126.3 L995.5,1126.8 L991.0,1127.0 L986.5,1126.8 L982.0,1126.3 L977.6,1125.4 L973.2,1124.2 L969.0,1122.6 L964.9,1120.7 L961.0,1118.5 L957.2,1116.0 L953.7,1113.2 L950.3,1110.2 L947.3,1106.8 L944.5,1103.3 L942.0,1099.5 L939.8,1095.6 L937.9,1091.5 L936.3,1087.3 L935.1,1082.9 L934.2,1078.5 L933.7,1074.0 L933.5,1069.5" fill="none" stroke="#141414" stroke-width="1.5"/><path d="M933.5,1069.5 L930.5,1069.5" fill="none" stroke="#141414" stroke-width="1.5"/><path d="M991,1012 L1001,1012" fill="none" stroke="#141414" stroke-width="1.5"/><circle cx="991" cy="1069.5" r="34.5" fill="none" stroke="#141414" stroke-width="1.6"/><rect x="960" y="1061.5" width="26" height="16" rx="8" fill="none" stroke="#141414" stroke-width="1.5"/><line x1="990.1" y1="945.2" x2="990.1" y2="1146.2" stroke="#141414" stroke-width="1.5" stroke-dasharray="38 6.5 6.5 6.5"/><line x1="900.0" y1="1068.7" x2="1079.0" y2="1068.7" stroke="#141414" stroke-width="1.5" stroke-dasharray="38 6.5 6.5 6.5"/><line x1="1123.8" y1="952.9" x2="1123.8" y2="1143.3" stroke="#141414" stroke-width="1.8"/><polygon points="1123.8,956.9 1121.1,960.9 1120.9,971.9 1126.9,971.9 1126.9,966.9 1126.5,960.9" fill="#141414"/><polygon points="1123.8,1139.3 1121.1,1135.3 1120.9,1124.3 1126.9,1124.3 1126.9,1129.3 1126.5,1135.3" fill="#141414"/><line x1="1062.0" y1="952.9" x2="1131.4" y2="952.9" stroke="#141414" stroke-width="1.6"/><line x1="1068.0" y1="1143.3" x2="1131.4" y2="1143.3" stroke="#141414" stroke-width="1.6"/><text x="1114.3" y="1048.6" font-family="Liberation Serif" font-size="26" fill="#141414" text-anchor="middle" transform="rotate(-90 1114.3 1048.6)">C</text><line x1="915.2" y1="1190.0" x2="1066.7" y2="1190.0" stroke="#141414" stroke-width="1.8"/><polygon points="919.2,1190.0 923.2,1187.3 934.2,1187.1 934.2,1193.1 929.2,1193.1 923.2,1192.7" fill="#141414"/><polygon points="1062.7,1190.0 1058.7,1187.3 1047.7,1187.1 1047.7,1193.1 1052.7,1193.1 1058.7,1192.7" fill="#141414"/><line x1="915.2" y1="1146.2" x2="915.2" y2="1197.6" stroke="#141414" stroke-width="1.6"/><line x1="1066.7" y1="1146.2" x2="1066.7" y2="1197.6" stroke="#141414" stroke-width="1.6"/><text x="990" y="1182.4" font-family="Liberation Serif" font-size="26" fill="#141414" text-anchor="middle">B</text><line x1="570.0" y1="1240.3" x2="652.1" y2="1240.3" stroke="#141414" stroke-width="1.8"/><polygon points="574.0,1240.3 578.0,1237.6 589.0,1237.4 589.0,1243.4 584.0,1243.4 578.0,1243.0" fill="#141414"/><polygon points="648.1,1240.3 644.1,1237.6 633.1,1237.4 633.1,1243.4 638.1,1243.4 644.1,1243.0" fill="#141414"/><line x1="570.0" y1="1234.7" x2="570.0" y2="1272.2" stroke="#141414" stroke-width="1.6"/><line x1="652.1" y1="1234.7" x2="652.1" y2="1297.5" stroke="#141414" stroke-width="1.6"/><text x="609.9" y="1232.8" font-family="Liberation Serif" font-size="26" fill="#141414" text-anchor="middle">D</text><rect x="570" y="1280.3" width="239.5" height="150.3" fill="none" stroke="#141414" stroke-width="2"/><clipPath id="h6"><polygon points="571,1281 656,1281 660,1290 652,1297.7 571,1297.7"/></clipPath><g clip-path="url(#h6)"><line x1="505.0" y1="1301.0" x2="527.0" y2="1279.0" stroke="#141414" stroke-width="1.3"/><line x1="516.0" y1="1301.0" x2="538.0" y2="1279.0" stroke="#141414" stroke-width="1.3"/><line x1="527.0" y1="1301.0" x2="549.0" y2="1279.0" stroke="#141414" stroke-width="1.3"/><line x1="538.0" y1="1301.0" x2="560.0" y2="1279.0" stroke="#141414" stroke-width="1.3"/><line x1="549.0" y1="1301.0" x2="571.0" y2="1279.0" stroke="#141414" stroke-width="1.3"/><line x1="560.0" y1="1301.0" x2="582.0" y2="1279.0" stroke="#141414" stroke-width="1.3"/><line x1="571.0" y1="1301.0" x2="593.0" y2="1279.0" stroke="#141414" stroke-width="1.3"/><line x1="582.0" y1="1301.0" x2="604.0" y2="1279.0" stroke="#141414" stroke-width="1.3"/><line x1="593.0" y1="1301.0" x2="615.0" y2="1279.0" stroke="#141414" stroke-width="1.3"/><line x1="604.0" y1="1301.0" x2="626.0" y2="1279.0" stroke="#141414" stroke-width="1.3"/><line x1="615.0" y1="1301.0" x2="637.0" y2="1279.0" stroke="#141414" stroke-width="1.3"/><line x1="626.0" y1="1301.0" x2="648.0" y2="1279.0" stroke="#141414" stroke-width="1.3"/><line x1="637.0" y1="1301.0" x2="659.0" y2="1279.0" stroke="#141414" stroke-width="1.3"/><line x1="648.0" y1="1301.0" x2="670.0" y2="1279.0" stroke="#141414" stroke-width="1.3"/><line x1="659.0" y1="1301.0" x2="681.0" y2="1279.0" stroke="#141414" stroke-width="1.3"/><line x1="670.0" y1="1301.0" x2="692.0" y2="1279.0" stroke="#141414" stroke-width="1.3"/><line x1="681.0" y1="1301.0" x2="703.0" y2="1279.0" stroke="#141414" stroke-width="1.3"/><line x1="692.0" y1="1301.0" x2="714.0" y2="1279.0" stroke="#141414" stroke-width="1.3"/><line x1="703.0" y1="1301.0" x2="725.0" y2="1279.0" stroke="#141414" stroke-width="1.3"/><line x1="714.0" y1="1301.0" x2="736.0" y2="1279.0" stroke="#141414" stroke-width="1.3"/><line x1="725.0" y1="1301.0" x2="747.0" y2="1279.0" stroke="#141414" stroke-width="1.3"/></g><path d="M571,1297.7 L652,1297.7 L660,1290 L656,1281" fill="none" stroke="#141414" stroke-width="1.5"/><line x1="572.0" y1="1299.8" x2="580.0" y2="1299.8" stroke="#141414" stroke-width="1.2"/><line x1="584.0" y1="1299.8" x2="592.0" y2="1299.8" stroke="#141414" stroke-width="1.2"/><line x1="596.0" y1="1299.8" x2="604.0" y2="1299.8" stroke="#141414" stroke-width="1.2"/><line x1="608.0" y1="1299.8" x2="616.0" y2="1299.8" stroke="#141414" stroke-width="1.2"/><line x1="620.0" y1="1299.8" x2="628.0" y2="1299.8" stroke="#141414" stroke-width="1.2"/><line x1="632.0" y1="1299.8" x2="640.0" y2="1299.8" stroke="#141414" stroke-width="1.2"/><line x1="644.0" y1="1299.8" x2="651.0" y2="1299.8" stroke="#141414" stroke-width="1.2"/><path d="M577.3,1366 L577.3,1303.5 L651.3,1303.5" fill="none" stroke="#141414" stroke-width="1.5"/><line x1="639.2" y1="1299.0" x2="639.2" y2="1367.0" stroke="#141414" stroke-width="1.5"/><path d="M659.4,1297 L659.4,1313 L651.3,1316 M651.3,1343 L659.4,1343 L659.4,1313" fill="none" stroke="#141414" stroke-width="1.4"/><line x1="651.3" y1="1297.7" x2="651.3" y2="1360.0" stroke="#141414" stroke-width="1.5"/><path d="M571,1365 Q609,1385 651.6,1360" fill="none" stroke="#141414" stroke-width="1.5"/><path d="M571,1372 L581.3,1413.8 L581.3,1430.6" fill="none" stroke="#141414" stroke-width="1.5"/><path d="M581.3,1414.7 L672.2,1414.7 L672.2,1430.6 M672.2,1414.7 L680,1428 L787,1428" fill="none" stroke="#141414" stroke-width="1.5"/><path d="M660,1355 L698.4,1289 L768.8,1289 L807.2,1355 L768.8,1419.4 L698.4,1419.4 Z" fill="none" stroke="#141414" stroke-width="1.5"/><circle cx="733.3" cy="1355" r="64" fill="none" stroke="#141414" stroke-width="1.5"/><circle cx="733.3" cy="1355" r="40.5" fill="none" stroke="#141414" stroke-width="1.6"/><circle cx="733.3" cy="1355" r="34" fill="none" stroke="#141414" stroke-width="1.6"/><circle cx="733.3" cy="1355" r="8.6" fill="none" stroke="#141414" stroke-width="1.5"/><path d="M787.6,1284.4 L809.5,1320" fill="none" stroke="#141414" stroke-width="1.5"/><path d="M809.5,1392.2 L787.6,1428.8" fill="none" stroke="#141414" stroke-width="1.5"/><line x1="756.6" y1="1283.4" x2="787.0" y2="1283.4" stroke="#141414" stroke-width="1.5"/><line x1="733.1" y1="1270.3" x2="733.1" y2="1456.0" stroke="#141414" stroke-width="1.6"/><line x1="550.3" y1="1355.0" x2="584.3" y2="1355.0" stroke="#141414" stroke-width="1.5"/><line x1="591.3" y1="1355.0" x2="597.8" y2="1355.0" stroke="#141414" stroke-width="1.5"/><line x1="604.8" y1="1355.0" x2="644.8" y2="1355.0" stroke="#141414" stroke-width="1.5"/><line x1="651.8" y1="1355.0" x2="658.3" y2="1355.0" stroke="#141414" stroke-width="1.5"/><line x1="665.3" y1="1355.0" x2="705.3" y2="1355.0" stroke="#141414" stroke-width="1.5"/><line x1="712.3" y1="1355.0" x2="718.8" y2="1355.0" stroke="#141414" stroke-width="1.5"/><line x1="725.8" y1="1355.0" x2="765.8" y2="1355.0" stroke="#141414" stroke-width="1.5"/><line x1="772.8" y1="1355.0" x2="779.3" y2="1355.0" stroke="#141414" stroke-width="1.5"/><line x1="786.3" y1="1355.0" x2="826.3" y2="1355.0" stroke="#141414" stroke-width="1.5"/><line x1="833.3" y1="1355.0" x2="839.8" y2="1355.0" stroke="#141414" stroke-width="1.5"/><line x1="846.8" y1="1355.0" x2="850.0" y2="1355.0" stroke="#141414" stroke-width="1.5"/><line x1="865.3" y1="1289.6" x2="865.3" y2="1419.4" stroke="#141414" stroke-width="1.8"/><polygon points="865.3,1293.6 862.6,1297.6 862.4,1308.6 868.4,1308.6 868.4,1303.6 868.0,1297.6" fill="#141414"/><polygon points="865.3,1415.4 862.6,1411.4 862.4,1400.4 868.4,1400.4 868.4,1405.4 868.0,1411.4" fill="#141414"/><line x1="777.0" y1="1289.6" x2="871.9" y2="1289.6" stroke="#141414" stroke-width="1.6"/><line x1="777.0" y1="1419.4" x2="871.9" y2="1419.4" stroke="#141414" stroke-width="1.6"/><text x="855.3" y="1354.6" font-family="Liberation Serif" font-size="19" fill="#141414" text-anchor="middle" transform="rotate(-90 855.3 1354.6)">A</text></g>
<rect x="1207.5" y="82.5" width="667.5" height="50.0" fill="#4f81bd"/><line x1="1206.5" y1="82.5" x2="1876.0" y2="82.5" stroke="#2a2a2a" stroke-width="2.0"/><line x1="1206.5" y1="132.5" x2="1876.0" y2="132.5" stroke="#1e1e1e" stroke-width="2.0"/><line x1="1206.5" y1="250.6" x2="1876.0" y2="250.6" stroke="#1e1e1e" stroke-width="2.0"/><line x1="1206.5" y1="368.1" x2="1876.0" y2="368.1" stroke="#1e1e1e" stroke-width="2.0"/><line x1="1206.5" y1="485.6" x2="1876.0" y2="485.6" stroke="#1e1e1e" stroke-width="2.0"/><line x1="1206.5" y1="590.6" x2="1876.0" y2="590.6" stroke="#2a2a2a" stroke-width="2.0"/><line x1="1207.5" y1="81.5" x2="1207.5" y2="591.6" stroke="#333" stroke-width="2.0"/><line x1="1295.0" y1="81.5" x2="1295.0" y2="591.6" stroke="#1e1e1e" stroke-width="2.0"/><line x1="1383.5" y1="81.5" x2="1383.5" y2="591.6" stroke="#1e1e1e" stroke-width="2.0"/><line x1="1472.0" y1="81.5" x2="1472.0" y2="591.6" stroke="#1e1e1e" stroke-width="2.0"/><line x1="1559.5" y1="81.5" x2="1559.5" y2="591.6" stroke="#1e1e1e" stroke-width="2.0"/><line x1="1648.0" y1="81.5" x2="1648.0" y2="591.6" stroke="#1e1e1e" stroke-width="2.0"/><line x1="1736.5" y1="81.5" x2="1736.5" y2="591.6" stroke="#1e1e1e" stroke-width="2.0"/><line x1="1875.0" y1="81.5" x2="1875.0" y2="591.6" stroke="#333" stroke-width="2.0"/><text x="1251.2" y="118.0" font-family="Liberation Sans" font-weight="bold" font-size="36" fill="#ffffff" text-anchor="middle">规格</text><text x="1339.2" y="119.8" font-family="Liberation Sans" font-weight="bold" font-size="38.5" fill="#ffffff" text-anchor="middle">A</text><text x="1427.8" y="119.8" font-family="Liberation Sans" font-weight="bold" font-size="38.5" fill="#ffffff" text-anchor="middle">B</text><text x="1515.8" y="119.8" font-family="Liberation Sans" font-weight="bold" font-size="38.5" fill="#ffffff" text-anchor="middle">C</text><text x="1603.8" y="119.8" font-family="Liberation Sans" font-weight="bold" font-size="38.5" fill="#ffffff" text-anchor="middle">D</text><text x="1692.2" y="119.8" font-family="Liberation Sans" font-weight="bold" font-size="38.5" fill="#ffffff" text-anchor="middle">E</text><text x="1807.0" y="119.8" font-family="Liberation Sans" font-weight="bold" font-size="38.5" fill="#ffffff" text-anchor="middle">L</text><text x="1251.2" y="200.7" font-family="Liberation Sans" font-weight="bold" font-size="30.5" fill="#111111" stroke="#ffffff" stroke-width="0.6" text-anchor="middle">1/8</text><text x="1339.2" y="200.7" font-family="Liberation Sans" font-weight="bold" font-size="30.5" fill="#111111" stroke="#ffffff" stroke-width="0.6" text-anchor="middle">12</text><text x="1427.8" y="200.7" font-family="Liberation Sans" font-weight="bold" font-size="30.5" fill="#111111" stroke="#ffffff" stroke-width="0.6" text-anchor="middle">14</text><text x="1515.8" y="200.7" font-family="Liberation Sans" font-weight="bold" font-size="30.5" fill="#111111" stroke="#ffffff" stroke-width="0.6" text-anchor="middle">17.8</text><text x="1603.8" y="200.7" font-family="Liberation Sans" font-weight="bold" font-size="30.5" fill="#111111" stroke="#ffffff" stroke-width="0.6" text-anchor="middle">9</text><text x="1692.2" y="200.7" font-family="Liberation Sans" font-weight="bold" font-size="30.5" fill="#111111" stroke="#ffffff" stroke-width="0.6" text-anchor="middle">7</text><text x="1807.0" y="200.7" font-family="Liberation Sans" font-weight="bold" font-size="30.5" fill="#111111" stroke="#ffffff" stroke-width="0.6" text-anchor="middle">26</text><text x="1251.2" y="318.7" font-family="Liberation Sans" font-weight="bold" font-size="30.5" fill="#111111" stroke="#ffffff" stroke-width="0.6" text-anchor="middle">1/4</text><text x="1339.2" y="318.7" font-family="Liberation Sans" font-weight="bold" font-size="30.5" fill="#111111" stroke="#ffffff" stroke-width="0.6" text-anchor="middle">17</text><text x="1427.8" y="318.7" font-family="Liberation Sans" font-weight="bold" font-size="30.5" fill="#111111" stroke="#ffffff" stroke-width="0.6" text-anchor="middle">18</text><text x="1515.8" y="318.7" font-family="Liberation Sans" font-weight="bold" font-size="30.5" fill="#111111" stroke="#ffffff" stroke-width="0.6" text-anchor="middle">22.8</text><text x="1603.8" y="318.7" font-family="Liberation Sans" font-weight="bold" font-size="30.5" fill="#111111" stroke="#ffffff" stroke-width="0.6" text-anchor="middle">12</text><text x="1692.2" y="318.7" font-family="Liberation Sans" font-weight="bold" font-size="30.5" fill="#111111" stroke="#ffffff" stroke-width="0.6" text-anchor="middle">10</text><text x="1807.0" y="318.7" font-family="Liberation Sans" font-weight="bold" font-size="30.5" fill="#111111" stroke="#ffffff" stroke-width="0.6" text-anchor="middle">34</text><text x="1251.2" y="436.3" font-family="Liberation Sans" font-weight="bold" font-size="30.5" fill="#111111" stroke="#ffffff" stroke-width="0.6" text-anchor="middle">3/8</text><text x="1339.2" y="436.3" font-family="Liberation Sans" font-weight="bold" font-size="30.5" fill="#111111" stroke="#ffffff" stroke-width="0.6" text-anchor="middle">19</text><text x="1427.8" y="436.3" font-family="Liberation Sans" font-weight="bold" font-size="30.5" fill="#111111" stroke="#ffffff" stroke-width="0.6" text-anchor="middle">22</text><text x="1515.8" y="436.3" font-family="Liberation Sans" font-weight="bold" font-size="30.5" fill="#111111" stroke="#ffffff" stroke-width="0.6" text-anchor="middle">27.8</text><text x="1603.8" y="436.3" font-family="Liberation Sans" font-weight="bold" font-size="30.5" fill="#111111" stroke="#ffffff" stroke-width="0.6" text-anchor="middle">13</text><text x="1692.2" y="436.3" font-family="Liberation Sans" font-weight="bold" font-size="30.5" fill="#111111" stroke="#ffffff" stroke-width="0.6" text-anchor="middle">11</text><text x="1807.0" y="436.3" font-family="Liberation Sans" font-weight="bold" font-size="30.5" fill="#111111" stroke="#ffffff" stroke-width="0.6" text-anchor="middle">35</text><text x="1251.2" y="553.2" font-family="Liberation Sans" font-weight="bold" font-size="30.5" fill="#111111" stroke="#ffffff" stroke-width="0.6" text-anchor="middle">1/2</text><text x="1339.2" y="553.2" font-family="Liberation Sans" font-weight="bold" font-size="30.5" fill="#111111" stroke="#ffffff" stroke-width="0.6" text-anchor="middle">22</text><text x="1427.8" y="553.2" font-family="Liberation Sans" font-weight="bold" font-size="30.5" fill="#111111" stroke="#ffffff" stroke-width="0.6" text-anchor="middle">25.4</text><text x="1515.8" y="553.2" font-family="Liberation Sans" font-weight="bold" font-size="30.5" fill="#111111" stroke="#ffffff" stroke-width="0.6" text-anchor="middle">33.2</text><text x="1603.8" y="553.2" font-family="Liberation Sans" font-weight="bold" font-size="30.5" fill="#111111" stroke="#ffffff" stroke-width="0.6" text-anchor="middle">17</text><text x="1692.2" y="553.2" font-family="Liberation Sans" font-weight="bold" font-size="30.5" fill="#111111" stroke="#ffffff" stroke-width="0.6" text-anchor="middle">14.5</text><text x="1807.0" y="553.2" font-family="Liberation Sans" font-weight="bold" font-size="30.5" fill="#111111" stroke="#ffffff" stroke-width="0.6" text-anchor="middle">46</text>
<rect x="1212.6" y="839.6" width="666.9" height="49.8" fill="#4f81bd"/><line x1="1211.6" y1="839.6" x2="1880.5" y2="839.6" stroke="#2a2a2a" stroke-width="2.0"/><line x1="1211.6" y1="889.4" x2="1880.5" y2="889.4" stroke="#1e1e1e" stroke-width="2.0"/><line x1="1211.6" y1="1010.2" x2="1880.5" y2="1010.2" stroke="#1e1e1e" stroke-width="2.0"/><line x1="1211.6" y1="1130.6" x2="1880.5" y2="1130.6" stroke="#1e1e1e" stroke-width="2.0"/><line x1="1211.6" y1="1251.4" x2="1880.5" y2="1251.4" stroke="#1e1e1e" stroke-width="2.0"/><line x1="1211.6" y1="1366.4" x2="1880.5" y2="1366.4" stroke="#2a2a2a" stroke-width="2.0"/><line x1="1212.6" y1="838.6" x2="1212.6" y2="1367.4" stroke="#333" stroke-width="2.0"/><line x1="1302.2" y1="839.6" x2="1302.2" y2="889.4" stroke="#1a2a40" stroke-width="1.6" stroke-dasharray="1.5 1.5"/><line x1="1302.2" y1="889.4" x2="1302.2" y2="1366.4" stroke="#1e1e1e" stroke-width="2.0"/><line x1="1392.6" y1="839.6" x2="1392.6" y2="889.4" stroke="#1a2a40" stroke-width="1.6" stroke-dasharray="1.5 1.5"/><line x1="1392.6" y1="889.4" x2="1392.6" y2="1366.4" stroke="#1e1e1e" stroke-width="2.0"/><line x1="1483.5" y1="839.6" x2="1483.5" y2="889.4" stroke="#1a2a40" stroke-width="1.6" stroke-dasharray="1.5 1.5"/><line x1="1483.5" y1="889.4" x2="1483.5" y2="1366.4" stroke="#1e1e1e" stroke-width="2.0"/><line x1="1574.1" y1="839.6" x2="1574.1" y2="889.4" stroke="#1a2a40" stroke-width="1.6" stroke-dasharray="1.5 1.5"/><line x1="1574.1" y1="889.4" x2="1574.1" y2="1366.4" stroke="#1e1e1e" stroke-width="2.0"/><line x1="1664.7" y1="839.6" x2="1664.7" y2="889.4" stroke="#1a2a40" stroke-width="1.6" stroke-dasharray="1.5 1.5"/><line x1="1664.7" y1="889.4" x2="1664.7" y2="1366.4" stroke="#1e1e1e" stroke-width="2.0"/><line x1="1755.3" y1="839.6" x2="1755.3" y2="889.4" stroke="#1a2a40" stroke-width="1.6" stroke-dasharray="1.5 1.5"/><line x1="1755.3" y1="889.4" x2="1755.3" y2="1366.4" stroke="#1e1e1e" stroke-width="2.0"/><line x1="1879.5" y1="838.6" x2="1879.5" y2="1367.4" stroke="#333" stroke-width="2.0"/><text x="1257.4" y="875.0" font-family="Liberation Sans" font-weight="bold" font-size="36" fill="#ffffff" text-anchor="middle">规格</text><text x="1347.4" y="876.8" font-family="Liberation Sans" font-weight="bold" font-size="40" fill="#ffffff" text-anchor="middle">A</text><text x="1438.0" y="876.8" font-family="Liberation Sans" font-weight="bold" font-size="40" fill="#ffffff" text-anchor="middle">B</text><text x="1528.8" y="876.8" font-family="Liberation Sans" font-weight="bold" font-size="40" fill="#ffffff" text-anchor="middle">C</text><text x="1619.4" y="876.8" font-family="Liberation Sans" font-weight="bold" font-size="40" fill="#ffffff" text-anchor="middle">D</text><text x="1710.0" y="876.8" font-family="Liberation Sans" font-weight="bold" font-size="40" fill="#ffffff" text-anchor="middle">E</text><text x="1827.0" y="876.8" font-family="Liberation Sans" font-weight="bold" font-size="40" fill="#ffffff" text-anchor="middle">L</text><text x="1257.4" y="958.6" font-family="Liberation Sans" font-weight="bold" font-size="30.5" fill="#111111" stroke="#ffffff" stroke-width="0.6" text-anchor="middle">1/8</text><text x="1347.4" y="958.6" font-family="Liberation Sans" font-weight="bold" font-size="30.5" fill="#111111" stroke="#ffffff" stroke-width="0.6" text-anchor="middle">12</text><text x="1438.0" y="958.6" font-family="Liberation Sans" font-weight="bold" font-size="30.5" fill="#111111" stroke="#ffffff" stroke-width="0.6" text-anchor="middle">14</text><text x="1528.8" y="958.6" font-family="Liberation Sans" font-weight="bold" font-size="30.5" fill="#111111" stroke="#ffffff" stroke-width="0.6" text-anchor="middle">17.8</text><text x="1619.4" y="958.6" font-family="Liberation Sans" font-weight="bold" font-size="30.5" fill="#111111" stroke="#ffffff" stroke-width="0.6" text-anchor="middle">8</text><text x="1710.0" y="958.6" font-family="Liberation Sans" font-weight="bold" font-size="30.5" fill="#111111" stroke="#ffffff" stroke-width="0.6" text-anchor="middle">7</text><text x="1827.0" y="958.6" font-family="Liberation Sans" font-weight="bold" font-size="30.5" fill="#111111" stroke="#ffffff" stroke-width="0.6" text-anchor="middle">22</text><text x="1257.4" y="1079.1" font-family="Liberation Sans" font-weight="bold" font-size="30.5" fill="#111111" stroke="#ffffff" stroke-width="0.6" text-anchor="middle">1/4</text><text x="1347.4" y="1079.1" font-family="Liberation Sans" font-weight="bold" font-size="30.5" fill="#111111" stroke="#ffffff" stroke-width="0.6" text-anchor="middle">17</text><text x="1438.0" y="1079.1" font-family="Liberation Sans" font-weight="bold" font-size="30.5" fill="#111111" stroke="#ffffff" stroke-width="0.6" text-anchor="middle">18</text><text x="1528.8" y="1079.1" font-family="Liberation Sans" font-weight="bold" font-size="30.5" fill="#111111" stroke="#ffffff" stroke-width="0.6" text-anchor="middle">22.8</text><text x="1619.4" y="1079.1" font-family="Liberation Sans" font-weight="bold" font-size="30.5" fill="#111111" stroke="#ffffff" stroke-width="0.6" text-anchor="middle">12</text><text x="1710.0" y="1079.1" font-family="Liberation Sans" font-weight="bold" font-size="30.5" fill="#111111" stroke="#ffffff" stroke-width="0.6" text-anchor="middle">10</text><text x="1827.0" y="1079.1" font-family="Liberation Sans" font-weight="bold" font-size="30.5" fill="#111111" stroke="#ffffff" stroke-width="0.6" text-anchor="middle">34</text><text x="1257.4" y="1199.5" font-family="Liberation Sans" font-weight="bold" font-size="30.5" fill="#111111" stroke="#ffffff" stroke-width="0.6" text-anchor="middle">3/8</text><text x="1347.4" y="1199.5" font-family="Liberation Sans" font-weight="bold" font-size="30.5" fill="#111111" stroke="#ffffff" stroke-width="0.6" text-anchor="middle">19</text><text x="1438.0" y="1199.5" font-family="Liberation Sans" font-weight="bold" font-size="30.5" fill="#111111" stroke="#ffffff" stroke-width="0.6" text-anchor="middle">22</text><text x="1528.8" y="1199.5" font-family="Liberation Sans" font-weight="bold" font-size="30.5" fill="#111111" stroke="#ffffff" stroke-width="0.6" text-anchor="middle">27.8</text><text x="1619.4" y="1199.5" font-family="Liberation Sans" font-weight="bold" font-size="30.5" fill="#111111" stroke="#ffffff" stroke-width="0.6" text-anchor="middle">12</text><text x="1710.0" y="1199.5" font-family="Liberation Sans" font-weight="bold" font-size="30.5" fill="#111111" stroke="#ffffff" stroke-width="0.6" text-anchor="middle">11</text><text x="1827.0" y="1199.5" font-family="Liberation Sans" font-weight="bold" font-size="30.5" fill="#111111" stroke="#ffffff" stroke-width="0.6" text-anchor="middle">35</text><text x="1257.4" y="1320.0" font-family="Liberation Sans" font-weight="bold" font-size="30.5" fill="#111111" stroke="#ffffff" stroke-width="0.6" text-anchor="middle">1/2</text><text x="1347.4" y="1320.0" font-family="Liberation Sans" font-weight="bold" font-size="30.5" fill="#111111" stroke="#ffffff" stroke-width="0.6" text-anchor="middle">22</text><text x="1438.0" y="1320.0" font-family="Liberation Sans" font-weight="bold" font-size="30.5" fill="#111111" stroke="#ffffff" stroke-width="0.6" text-anchor="middle">25.4</text><text x="1528.8" y="1320.0" font-family="Liberation Sans" font-weight="bold" font-size="30.5" fill="#111111" stroke="#ffffff" stroke-width="0.6" text-anchor="middle">33.2</text><text x="1619.4" y="1320.0" font-family="Liberation Sans" font-weight="bold" font-size="30.5" fill="#111111" stroke="#ffffff" stroke-width="0.6" text-anchor="middle">16</text><text x="1710.0" y="1320.0" font-family="Liberation Sans" font-weight="bold" font-size="30.5" fill="#111111" stroke="#ffffff" stroke-width="0.6" text-anchor="middle">13</text><text x="1827.0" y="1320.0" font-family="Liberation Sans" font-weight="bold" font-size="30.5" fill="#111111" stroke="#ffffff" stroke-width="0.6" text-anchor="middle">45</text>
</svg></body></html>
